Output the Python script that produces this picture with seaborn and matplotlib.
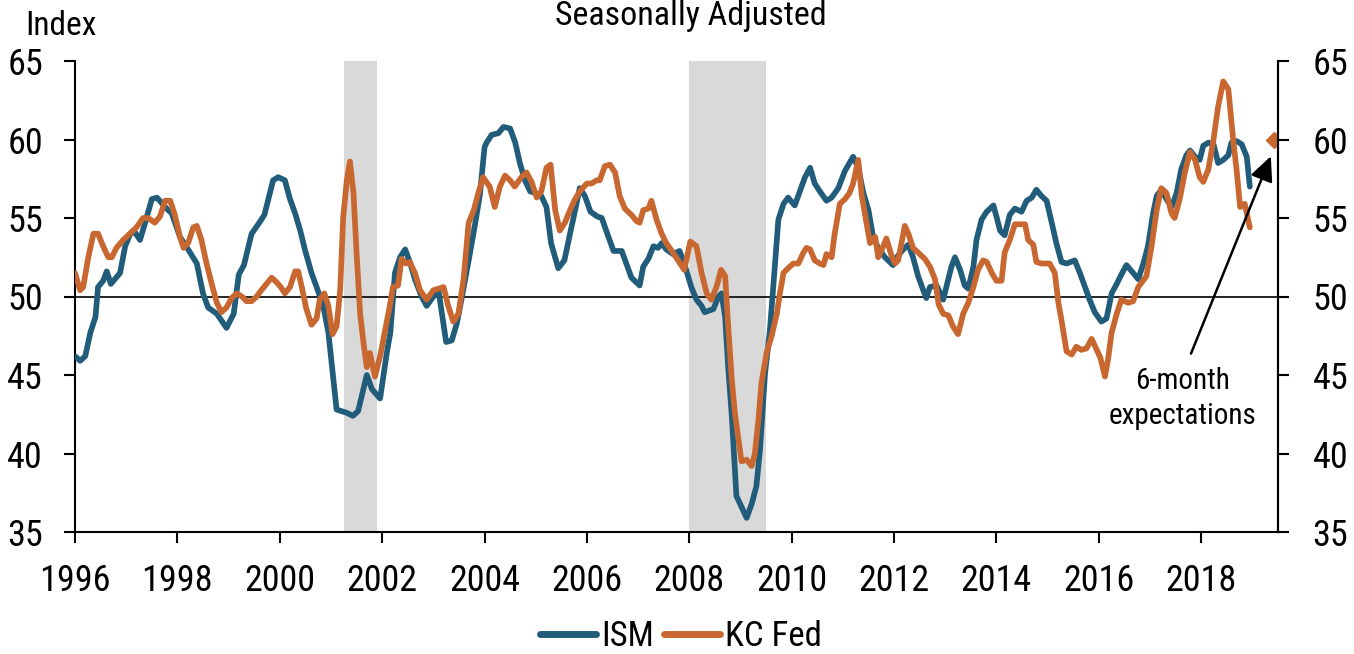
import pandas as pd
import numpy as np
import matplotlib
matplotlib.use("Agg")
import matplotlib.pyplot as plt
import seaborn as sns
from matplotlib.lines import Line2D

# ISM manufacturing index (decimal year, value)
ism_t = [1996.00, 1996.10, 1996.20, 1996.30, 1996.40, 1996.45, 1996.55, 1996.62, 1996.70, 1996.88,
         1996.98, 1997.08, 1997.17, 1997.27, 1997.37, 1997.50, 1997.60, 1997.79, 1997.89, 1998.05,
         1998.21, 1998.38, 1998.50, 1998.60, 1998.77, 1998.96, 1999.10, 1999.20, 1999.30, 1999.45,
         1999.60, 1999.70, 1999.87, 1999.97, 2000.10, 2000.20, 2000.30, 2000.40, 2000.49, 2000.62,
         2000.72, 2000.85, 2000.95, 2001.11, 2001.30, 2001.43, 2001.53, 2001.70, 2001.80, 2001.96,
         2002.09, 2002.16, 2002.25, 2002.35, 2002.45, 2002.55, 2002.64, 2002.77, 2002.87, 2003.00,
         2003.10, 2003.25, 2003.36, 2003.46, 2003.56, 2003.69, 2003.82, 2003.91, 2004.00, 2004.04,
         2004.14, 2004.27, 2004.37, 2004.50, 2004.60, 2004.69, 2004.79, 2004.89, 2004.98, 2005.11,
         2005.21, 2005.30, 2005.44, 2005.56, 2005.67, 2005.77, 2005.86, 2005.96, 2006.07, 2006.20,
         2006.29, 2006.42, 2006.52, 2006.68, 2006.77, 2006.87, 2007.03, 2007.10, 2007.20, 2007.30,
         2007.39, 2007.46, 2007.55, 2007.68, 2007.81, 2007.91, 2008.04, 2008.14, 2008.24, 2008.30,
         2008.47, 2008.57, 2008.63, 2008.70, 2008.76, 2008.83, 2008.92, 2009.02, 2009.12, 2009.22,
         2009.31, 2009.38, 2009.48, 2009.57, 2009.64, 2009.74, 2009.84, 2009.93, 2010.06, 2010.16,
         2010.26, 2010.36, 2010.45, 2010.55, 2010.68, 2010.78, 2010.91, 2011.04, 2011.20, 2011.30,
         2011.40, 2011.50, 2011.59, 2011.69, 2011.82, 2011.98, 2012.05, 2012.18, 2012.28, 2012.37,
         2012.47, 2012.57, 2012.63, 2012.70, 2012.83, 2012.96, 2013.06, 2013.12, 2013.19, 2013.29,
         2013.38, 2013.45, 2013.55, 2013.61, 2013.71, 2013.81, 2013.94, 2014.00, 2014.07, 2014.16,
         2014.26, 2014.36, 2014.49, 2014.59, 2014.69, 2014.78, 2014.88, 2014.98, 2015.08, 2015.17,
         2015.27, 2015.37, 2015.53, 2015.63, 2015.73, 2015.82, 2015.92, 2016.05, 2016.15, 2016.25,
         2016.35, 2016.44, 2016.54, 2016.67, 2016.77, 2016.87, 2016.96, 2017.06, 2017.13, 2017.22,
         2017.32, 2017.42, 2017.52, 2017.61, 2017.71, 2017.78, 2017.88, 2017.97, 2018.04, 2018.14,
         2018.24, 2018.33, 2018.43, 2018.53, 2018.59, 2018.69, 2018.79, 2018.89, 2018.95]
ism_v = [46.2, 45.9, 46.2, 47.7, 48.7, 50.6, 51.0, 51.6, 50.8, 51.5,
         53.2, 54.0, 54.1, 53.6, 54.7, 56.2, 56.3, 55.6, 55.3, 53.8,
         53.0, 52.1, 50.2, 49.3, 48.9, 48.0, 48.9, 51.4, 52.0, 54.0,
         54.7, 55.2, 57.4, 57.6, 57.4, 56.2, 55.3, 54.2, 53.0, 51.5,
         50.6, 49.4, 47.7, 42.8, 42.6, 42.4, 42.7, 45.0, 44.1, 43.5,
         46.4, 47.7, 51.5, 52.5, 53.0, 52.1, 51.1, 50.0, 49.4, 50.0,
         50.4, 47.1, 47.2, 48.3, 50.0, 52.3, 54.7, 56.5, 59.5, 59.8,
         60.3, 60.4, 60.8, 60.7, 59.8, 58.5, 57.4, 56.7, 56.6, 56.4,
         55.7, 53.4, 51.8, 52.3, 54.0, 55.5, 56.9, 56.4, 55.4, 55.1,
         55.0, 53.8, 52.9, 52.9, 52.1, 51.2, 50.7, 51.9, 52.4, 53.2,
         53.1, 53.4, 53.0, 52.7, 52.9, 52.0, 50.6, 49.8, 49.4, 49.0,
         49.2, 50.0, 50.2, 48.7, 45.5, 42.4, 37.3, 36.6, 35.9, 36.8,
         37.9, 40.2, 45.1, 47.7, 50.6, 54.9, 55.9, 56.3, 55.8, 56.7,
         57.6, 58.2, 57.2, 56.7, 56.1, 56.3, 56.9, 58.0, 58.9, 58.2,
         56.6, 55.5, 53.8, 53.1, 52.5, 52.0, 52.5, 53.0, 53.3, 52.5,
         51.3, 50.4, 49.9, 50.6, 50.7, 49.8, 51.1, 51.9, 52.5, 51.7,
         50.7, 50.5, 51.9, 53.6, 54.9, 55.4, 55.8, 55.1, 54.2, 53.9,
         55.2, 55.6, 55.4, 56.1, 56.3, 56.8, 56.4, 56.1, 54.7, 53.4,
         52.2, 52.1, 52.3, 51.5, 50.6, 49.8, 49.0, 48.4, 48.6, 50.2,
         50.8, 51.4, 52.0, 51.5, 51.1, 52.1, 53.2, 55.3, 56.4, 56.8,
         56.2, 55.7, 56.6, 58.1, 59.0, 59.3, 58.9, 58.7, 59.6, 59.8,
         59.7, 58.5, 58.7, 59.0, 59.8, 59.9, 59.7, 58.9, 57.0]

# Kansas City Fed manufacturing composite
kc_t = [1996.00, 1996.10, 1996.16, 1996.26, 1996.36, 1996.45, 1996.55, 1996.65, 1996.72, 1996.81,
        1996.94, 1997.07, 1997.20, 1997.33, 1997.43, 1997.56, 1997.66, 1997.76, 1997.86, 1997.95,
        1998.05, 1998.12, 1998.21, 1998.31, 1998.38, 1998.47, 1998.57, 1998.67, 1998.77, 1998.86,
        1998.96, 1999.06, 1999.16, 1999.26, 1999.35, 1999.45, 1999.55, 1999.64, 1999.74, 1999.84,
        1999.94, 2000.02, 2000.10, 2000.20, 2000.30, 2000.36, 2000.43, 2000.52, 2000.62, 2000.72,
        2000.78, 2000.87, 2000.95, 2001.03, 2001.11, 2001.18, 2001.24, 2001.31, 2001.37, 2001.44,
        2001.50, 2001.57, 2001.63, 2001.70, 2001.76, 2001.86, 2001.96, 2002.05, 2002.15, 2002.21,
        2002.31, 2002.38, 2002.47, 2002.54, 2002.64, 2002.74, 2002.87, 2003.00, 2003.10, 2003.20,
        2003.29, 2003.39, 2003.49, 2003.59, 2003.69, 2003.79, 2003.88, 2003.97, 2004.10, 2004.20,
        2004.30, 2004.40, 2004.50, 2004.59, 2004.72, 2004.82, 2004.92, 2005.02, 2005.11, 2005.21,
        2005.29, 2005.38, 2005.47, 2005.57, 2005.67, 2005.77, 2005.86, 2006.00, 2006.09, 2006.19,
        2006.25, 2006.35, 2006.45, 2006.55, 2006.64, 2006.74, 2006.87, 2006.97, 2007.03, 2007.10,
        2007.20, 2007.26, 2007.36, 2007.46, 2007.55, 2007.68, 2007.78, 2007.90, 2008.02, 2008.14,
        2008.24, 2008.34, 2008.43, 2008.53, 2008.62, 2008.70, 2008.76, 2008.83, 2008.89, 2008.96,
        2009.02, 2009.12, 2009.22, 2009.28, 2009.35, 2009.41, 2009.51, 2009.61, 2009.71, 2009.77,
        2009.84, 2009.93, 2010.03, 2010.13, 2010.23, 2010.29, 2010.36, 2010.45, 2010.55, 2010.62,
        2010.68, 2010.78, 2010.84, 2010.94, 2011.04, 2011.13, 2011.20, 2011.30, 2011.37, 2011.46,
        2011.53, 2011.63, 2011.69, 2011.79, 2011.85, 2011.95, 2012.02, 2012.08, 2012.21, 2012.28,
        2012.37, 2012.50, 2012.60, 2012.70, 2012.80, 2012.87, 2012.96, 2013.06, 2013.15, 2013.25,
        2013.35, 2013.45, 2013.55, 2013.64, 2013.74, 2013.81, 2013.91, 2014.00, 2014.10, 2014.16,
        2014.26, 2014.36, 2014.46, 2014.56, 2014.62, 2014.72, 2014.78, 2014.88, 2015.04, 2015.14,
        2015.21, 2015.27, 2015.37, 2015.47, 2015.56, 2015.66, 2015.76, 2015.86, 2015.96, 2016.03,
        2016.12, 2016.18, 2016.25, 2016.35, 2016.44, 2016.57, 2016.67, 2016.77, 2016.93, 2017.03,
        2017.13, 2017.22, 2017.32, 2017.42, 2017.48, 2017.58, 2017.68, 2017.78, 2017.88, 2017.97,
        2018.04, 2018.14, 2018.24, 2018.33, 2018.43, 2018.53, 2018.63, 2018.69, 2018.76, 2018.85,
        2018.95]
kc_v = [51.5, 50.4, 50.6, 52.5, 54.0, 54.0, 53.2, 52.5, 52.5, 53.1,
        53.6, 54.0, 54.4, 55.0, 55.0, 54.7, 55.1, 56.1, 56.1, 55.2,
        53.8, 53.1, 53.4, 54.4, 54.5, 53.6, 52.1, 50.8, 49.6, 49.0,
        49.3, 49.9, 50.2, 50.0, 49.7, 49.7, 50.0, 50.4, 50.8, 51.2,
        50.9, 50.6, 50.2, 50.6, 51.6, 51.6, 50.6, 49.2, 48.2, 48.6,
        49.8, 50.2, 49.4, 47.6, 48.1, 50.4, 55.1, 57.4, 58.6, 56.6,
        52.8, 48.9, 47.2, 45.5, 46.4, 44.9, 46.2, 47.7, 49.4, 50.6,
        50.7, 52.4, 52.1, 52.2, 51.5, 50.4, 49.8, 50.4, 50.5, 50.6,
        49.4, 48.4, 48.9, 51.1, 54.7, 55.5, 56.6, 57.6, 57.0, 55.7,
        57.0, 57.7, 57.4, 57.0, 57.6, 57.9, 57.3, 56.3, 56.7, 58.2,
        58.4, 55.5, 54.2, 54.7, 55.5, 56.2, 56.7, 57.2, 57.2, 57.4,
        57.4, 58.3, 58.4, 57.9, 56.4, 55.6, 55.2, 54.8, 54.7, 55.5,
        55.6, 56.1, 54.9, 54.0, 53.4, 52.8, 52.3, 51.7, 53.5, 53.2,
        51.5, 50.2, 49.8, 50.6, 51.7, 51.3, 48.1, 44.7, 42.6, 40.9,
        39.5, 39.6, 39.2, 40.0, 42.1, 44.5, 46.4, 47.5, 48.9, 50.2,
        51.5, 51.8, 52.1, 52.1, 52.8, 53.1, 53.0, 52.3, 52.1, 52.0,
        52.7, 52.5, 54.0, 55.9, 56.2, 56.6, 57.2, 58.7, 56.4, 54.7,
        53.4, 53.8, 52.5, 53.2, 53.7, 52.6, 52.1, 52.3, 54.5, 54.0,
        53.1, 52.7, 52.4, 51.9, 51.1, 49.5, 48.9, 48.8, 48.1, 47.6,
        48.9, 49.6, 50.6, 51.7, 52.3, 52.2, 51.5, 51.0, 51.0, 52.8,
        53.6, 54.6, 54.6, 54.6, 53.6, 53.3, 52.2, 52.1, 52.1, 51.5,
        49.6, 48.5, 46.5, 46.3, 46.8, 46.6, 46.7, 47.3, 46.6, 46.1,
        44.9, 46.0, 47.7, 48.9, 49.8, 49.6, 49.7, 50.6, 51.3, 53.2,
        55.5, 56.9, 56.6, 55.3, 55.0, 56.2, 57.9, 59.2, 58.7, 57.6,
        57.3, 58.1, 60.0, 62.1, 63.7, 63.2, 59.8, 58.1, 55.7, 55.9,
        54.4]

# KC Fed 6-month expectations point
exp_t = [2019.42]
exp_v = [60.0]

# recessions
rec_start = [2001.25, 2008.0]
rec_end = [2001.9, 2009.5]

ism_col = "#215d7a"
kc_col = "#c8672f"

df = pd.concat([
    pd.DataFrame({"year": ism_t, "value": ism_v, "series": "ISM"}),
    pd.DataFrame({"year": kc_t, "value": kc_v, "series": "KC Fed"}),
])

sns.set_style("ticks")
plt.rcParams["font.family"] = ["Liberation Sans Narrow", "Roboto Condensed",
                               "Liberation Sans", "DejaVu Sans"]
plt.rcParams.update({"text.color": "black", "xtick.color": "black",
                     "ytick.color": "black", "axes.edgecolor": "black",
                     "axes.labelcolor": "black"})

fig = plt.figure(figsize=(13.54, 6.54), dpi=100)
ax = fig.add_axes([75/1354, 1 - 532/654, (1278 - 75)/1354, (532 - 61)/654])

for s, e in zip(rec_start, rec_end):
    ax.axvspan(s, e, color="#d9d9d9", lw=0, zorder=0)
ax.axhline(50, color="black", lw=1.2, zorder=1)

sns.lineplot(data=df, x="year", y="value", hue="series",
             palette={"ISM": ism_col, "KC Fed": kc_col},
             estimator=None, lw=4.1, ax=ax, legend=False, zorder=3)
ax.plot(exp_t, exp_v, marker="D", color=kc_col, ms=8.5, ls="none", zorder=4)

ax.set_xlim(1996, 2019.5)
ax.set_ylim(35, 65)
ax.set_xticks(range(1996, 2019, 2))
ax.set_yticks(range(35, 66, 5))
ax.set_xlabel("")
ax.set_ylabel("")
for side in ["left", "bottom", "right"]:
    ax.spines[side].set_linewidth(1.5)
ax.spines["top"].set_visible(False)
ax.tick_params(axis="both", labelsize=26, width=1.5, length=8, direction="out")
ax.tick_params(axis="y", pad=15)
ax.tick_params(axis="x", pad=14)

ax2 = ax.twinx()
ax2.set_ylim(35, 65)
ax2.set_yticks(range(35, 66, 5))
ax2.spines["top"].set_visible(False)
ax2.spines["left"].set_visible(False)
ax2.spines["bottom"].set_visible(False)
ax2.spines["right"].set_linewidth(1.5)
ax2.tick_params(axis="y", labelsize=26, width=1.5, length=8, pad=17)

# annotation
ax.annotate("", xy=(2019.38, 59.1), xytext=(2017.78, 46.2),
            arrowprops=dict(arrowstyle="-|>,head_length=0.75,head_width=0.35",
                            color="black", lw=1.8, mutation_scale=20), zorder=5)
ax.text(2017.64, 43.5, "6-month\nexpectations", ha="center", va="center",
        fontsize=21, linespacing=1.3)

fig.text(25/1354, 1 - 35/654, "Index", fontsize=24, va="baseline", ha="left")
fig.text(691/1354, 1 - 25/654, "Seasonally Adjusted", fontsize=24.5, va="baseline", ha="center")

handles = [Line2D([], [], color=ism_col, lw=5, solid_capstyle="round"),
           Line2D([], [], color=kc_col, lw=5, solid_capstyle="round")]
fig.legend(handles, ["ISM", "KC Fed"], loc="center", bbox_to_anchor=(0.503, 0.026),
           ncol=2, frameon=False, fontsize=25, handlelength=1.6,
           handletextpad=0.15, columnspacing=0.3)

fig.savefig("out.png", dpi=100)
